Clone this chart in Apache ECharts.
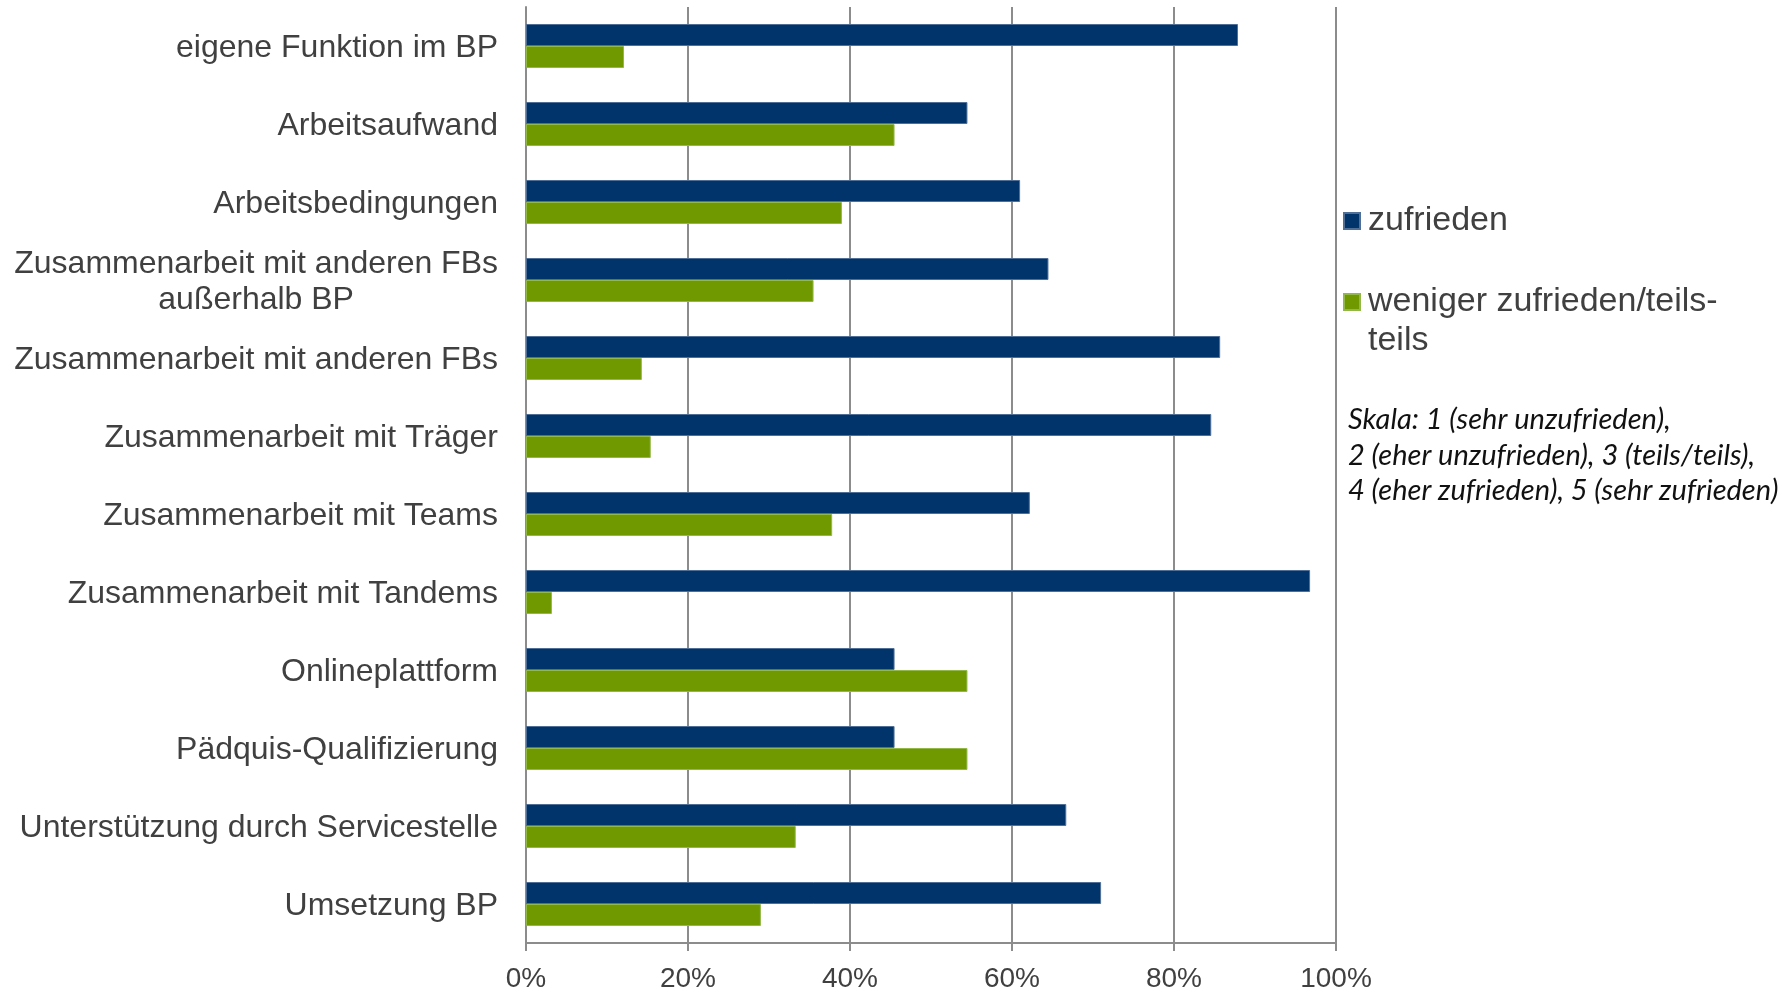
<!DOCTYPE html>
<html>
<head>
<meta charset="utf-8">
<script src="https://cdn.jsdelivr.net/npm/echarts@6/dist/echarts.min.js"></script>
<style>
html,body{margin:0;padding:0;background:#fff;}
#chart{width:1783px;height:993px;}
</style>
</head>
<body>
<div id="chart"></div>
<script>
const categories = [
  'eigene Funktion im BP',
  'Arbeitsaufwand',
  'Arbeitsbedingungen',
  'Zusammenarbeit mit anderen FBs\naußerhalb BP',
  'Zusammenarbeit mit anderen FBs',
  'Zusammenarbeit mit Träger',
  'Zusammenarbeit mit Teams',
  'Zusammenarbeit mit Tandems',
  'Onlineplattform',
  'Pädquis-Qualifizierung',
  'Unterstützung durch Servicestelle',
  'Umsetzung BP'
];
const zufrieden = [87.9, 54.5, 61.0, 64.5, 85.7, 84.6, 62.2, 96.8, 45.5, 45.5, 66.7, 71.0];
const weniger   = [12.1, 45.5, 39.0, 35.5, 14.3, 15.4, 37.8, 3.2, 54.5, 54.5, 33.3, 29.0];
const xTicks = [0, 20, 40, 60, 80, 100];
const seriesNames = ['zufrieden', 'weniger zufrieden/teils-teils'];
const legendLines = [['zufrieden'], ['weniger zufrieden/teils-', 'teils']];
const scaleNote = 'Skala: 1 (sehr unzufrieden),\n2 (eher unzufrieden), 3 (teils/teils),\n4 (eher zufrieden), 5 (sehr zufrieden)';

const chart = echarts.init(document.getElementById('chart'), null, {renderer: 'canvas'});
const font = 'Liberation Sans, Arial, sans-serif';
const gray = '#8c8c8c';
const legendRich = {
  a: {fontFamily: font, fontSize: 34, color: '#404040', lineHeight: 39, padding: [0, 0, 0, 3]}
};
chart.setOption({
  animation: false,
  grid: {left: 526, top: 7, width: 810, height: 937, containLabel: false},
  legend: [
    {
      data: [seriesNames[0]],
      left: 1343, top: 204, padding: 0,
      itemWidth: 16, itemHeight: 16, itemGap: 0,
      icon: 'rect',
      formatter: function () { return '{a|' + legendLines[0][0] + '}'; },
      textStyle: {fontFamily: font, fontSize: 34, color: '#404040', rich: legendRich}
    },
    {
      data: [seriesNames[1]],
      left: 1343, top: 246, padding: 0,
      itemWidth: 16, itemHeight: 16, itemGap: 0,
      icon: 'rect',
      formatter: function () {
        return '{a| }\n' + legendLines[1].map(function (s) { return '{a|' + s + '}'; }).join('\n');
      },
      textStyle: {fontFamily: font, fontSize: 34, color: '#404040', rich: legendRich}
    }
  ],
  xAxis: {
    type: 'value', min: 0, max: 100, interval: 20,
    axisLine: {show: true, lineStyle: {color: gray, width: 2}},
    axisTick: {show: true, length: 8, lineStyle: {color: gray, width: 2}},
    splitLine: {show: true, lineStyle: {color: gray, width: 2}},
    axisLabel: {
      margin: 22, fontFamily: font, fontSize: 28, color: '#404040',
      formatter: function (v) { return xTicks.indexOf(v) >= 0 ? v + '%' : ''; }
    }
  },
  yAxis: {
    type: 'category', inverse: true, data: categories,
    axisLine: {show: true, lineStyle: {color: gray, width: 2}},
    axisTick: {show: false},
    axisLabel: {
      margin: 28, fontFamily: font, fontSize: 32, color: '#404040', lineHeight: 36,
      padding: [4, 0, 0, 0],
      formatter: function (v) {
        return v.split('\n').map(function (s) { return '{c|' + s + '}'; }).join('\n');
      },
      rich: {c: {align: 'center', fontFamily: font, fontSize: 32, color: '#404040', lineHeight: 36}}
    }
  },
  series: [
    {
      name: seriesNames[0], type: 'bar', data: zufrieden, barWidth: 22, barGap: '0%',
      itemStyle: {color: '#00346a', borderColor: '#4f6f96', borderWidth: 1}
    },
    {
      name: seriesNames[1], type: 'bar', data: weniger, barWidth: 22, barGap: '0%',
      itemStyle: {color: '#709900', borderColor: '#93b84a', borderWidth: 1}
    }
  ],
  graphic: [{
    type: 'text', left: 1348, top: 402,
    style: {
      text: scaleNote, fontFamily: 'Lato, Noto Sans, sans-serif', fontStyle: 'italic',
      fontSize: 29, lineHeight: 35.5, fill: '#111111'
    }
  }]
});
</script>
</body>
</html>
